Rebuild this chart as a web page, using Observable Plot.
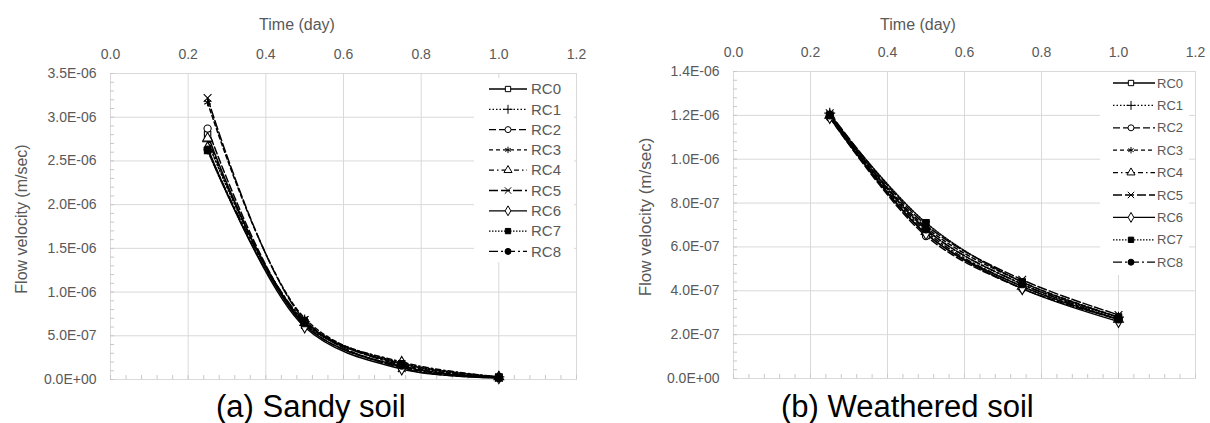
<!DOCTYPE html>
<html><head><meta charset="utf-8">
<script src="https://cdn.jsdelivr.net/npm/d3@7"></script>
<script src="https://cdn.jsdelivr.net/npm/@observablehq/plot@0.6"></script>
<style>
body{margin:0;background:#fff;font-family:"Liberation Sans",Arial,sans-serif;}
#wrap{position:relative;width:1210px;height:423px;overflow:hidden;background:#fff;}
.panel{position:absolute;top:0;}
#overlay{position:absolute;left:0;top:0;pointer-events:none;}
</style></head><body><div id="wrap"></div><script>
// ---- data ----
const times = [0.25, 0.5, 0.75, 1.0];
const seriesNames = ["RC0","RC1","RC2","RC3","RC4","RC5","RC6","RC7","RC8"];
const sandyValues = [
  [2.80e-6, 0.62e-6, 0.15e-6, 0.02e-6],
  [2.72e-6, 0.66e-6, 0.19e-6, 0.03e-6],
  [2.87e-6, 0.63e-6, 0.14e-6, 0.02e-6],
  [3.17e-6, 0.70e-6, 0.17e-6, 0.03e-6],
  [2.76e-6, 0.65e-6, 0.20e-6, 0.03e-6],
  [3.22e-6, 0.68e-6, 0.13e-6, 0.02e-6],
  [2.65e-6, 0.60e-6, 0.12e-6, 0.02e-6],
  [2.62e-6, 0.64e-6, 0.18e-6, 0.03e-6],
  [2.63e-6, 0.67e-6, 0.16e-6, 0.02e-6]
];
const weatheredValues = [
  [1.20e-6, 0.66e-6, 0.42e-6, 0.27e-6],
  [1.21e-6, 0.68e-6, 0.43e-6, 0.28e-6],
  [1.19e-6, 0.65e-6, 0.41e-6, 0.27e-6],
  [1.20e-6, 0.69e-6, 0.44e-6, 0.28e-6],
  [1.20e-6, 0.67e-6, 0.42e-6, 0.27e-6],
  [1.21e-6, 0.70e-6, 0.45e-6, 0.29e-6],
  [1.19e-6, 0.66e-6, 0.41e-6, 0.26e-6],
  [1.20e-6, 0.71e-6, 0.44e-6, 0.28e-6],
  [1.20e-6, 0.68e-6, 0.43e-6, 0.27e-6]
];
const xTicks = [0, 0.2, 0.4, 0.6, 0.8, 1.0, 1.2];
const sandyYTicks = [0, 0.5e-6, 1.0e-6, 1.5e-6, 2.0e-6, 2.5e-6, 3.0e-6, 3.5e-6];
const weatheredYTicks = [0, 0.2e-6, 0.4e-6, 0.6e-6, 0.8e-6, 1.0e-6, 1.2e-6, 1.4e-6];
const xTitle = "Time (day)";
const yTitle = "Flow velocity (m/sec)";
const captions = ["(a) Sandy soil", "(b) Weathered soil"];

// ---- styles ----
const symbols = ["square","plus","circle","asterisk","triangle","times","diamond","square","circle"];
const fills = ["white","none","white","none","white","none","white","black","black"];
const dashes = [null,"1.5,2","7,3","4,3","5,3,1.5,3","9,3",null,"1.5,1.5","9,3,2,3"];
const d3sym = {square:d3.symbolSquare, plus:d3.symbolPlus, circle:d3.symbolCircle, asterisk:d3.symbolAsterisk,
  triangle:d3.symbolTriangle, times:d3.symbolTimes, diamond:d3.symbolDiamond};
const FONT = '"Liberation Sans", Arial, sans-serif';
const GRAY = "#595959", GRID = "#d9d9d9";

const sci = v => {
  const [m, e] = v.toExponential(1).split("e");
  const n = +e;
  return m + "E" + (n < 0 ? "-" : "+") + String(Math.abs(n)).padStart(2, "0");
};

function makePanel(values, yTicks, cfg) {
  const yMax = yTicks[yTicks.length - 1];
  const step = yTicks[1] - yTicks[0];
  const yMinor = d3.range(0, Math.round(yMax / step * 5) + 1).map(i => i * step / 5);
  const xMinor = d3.range(0, 31).map(i => i * 0.04);
  const rows = [];
  values.forEach((vals, s) => vals.forEach((v, i) => rows.push({series: seriesNames[s], s, t: times[i], v})));
  const marks = [
    Plot.gridX(xTicks, {stroke: GRID, strokeOpacity: 1}),
    Plot.gridY(yTicks, {stroke: GRID, strokeOpacity: 1}),
    Plot.frame({stroke: GRID, strokeOpacity: 1}),
    Plot.axisX(xMinor, {anchor: "bottom", tickSize: -4, stroke: "#c8c8c8", tickFormat: () => "", label: null}),
    Plot.axisY(yMinor, {anchor: "left", tickSize: -4, stroke: "#c8c8c8", tickFormat: () => "", label: null})
  ];
  seriesNames.forEach((name, s) => {
    const d = rows.filter(r => r.s === s);
    marks.push(Plot.line(d, {x: "t", y: "v", stroke: "black", strokeWidth: 1.5,
      strokeDasharray: dashes[s] ?? undefined, curve: "catmull-rom"}));
  });
  seriesNames.forEach((name, s) => {
    const d = rows.filter(r => r.s === s);
    marks.push(Plot.dot(d, {x: "t", y: "v", symbol: symbols[s], r: 3.6, stroke: "black",
      fill: fills[s], strokeWidth: 1.1}));
  });
  marks.push(
    Plot.axisX({anchor: "top", ticks: xTicks, tickSize: 0, tickPadding: 15, tickFormat: d => d.toFixed(1), label: null, fill: GRAY}),
    Plot.axisY({anchor: "left", ticks: yTicks, tickSize: 0, tickPadding: 14, tickFormat: sci, label: null, fill: GRAY})
  );
  const svg = Plot.plot({
    width: 605, height: 390,
    marginLeft: cfg.ml, marginRight: cfg.mr, marginTop: cfg.mt, marginBottom: cfg.mb,
    x: {domain: [0, 1.2]},
    y: {domain: [0, yMax]},
    style: {fontFamily: FONT, fontSize: "14px", color: GRAY, background: "transparent"},
    marks
  });
  svg.classList.add("panel");
  svg.style.left = cfg.left + "px";
  // legend
  const L = cfg.legend;
  const g = d3.select(svg).append("g").attr("text-anchor", "start");
  g.append("rect").attr("x", L.x0).attr("y", L.y0).attr("width", L.x1 - L.x0).attr("height", L.y1 - L.y0).attr("fill", "white");
  seriesNames.forEach((name, s) => {
    const y = L.row0 + s * L.step;
    g.append("line").attr("x1", L.lx0).attr("x2", L.lx1).attr("y1", y).attr("y2", y)
      .attr("stroke", "black").attr("stroke-width", 1.3).attr("stroke-dasharray", dashes[s]);
    g.append("path").attr("d", d3.symbol(d3sym[symbols[s]], Math.PI * 3 * 3)())
      .attr("transform", `translate(${L.mx},${y})`).attr("fill", fills[s]).attr("stroke", "black").attr("stroke-width", 1);
    g.append("text").attr("x", L.tx).attr("y", y).attr("dy", "0.35em").attr("fill", GRAY)
      .attr("text-anchor", "start").attr("font-size", L.fs + "px").attr("font-family", FONT).text(name);
  });
  return svg;
}

const wrap = document.getElementById("wrap");
wrap.appendChild(makePanel(sandyValues, sandyYTicks, {
  left: 0, ml: 110, mr: 29, mt: 73, mb: 11,
  legend: {x0: 474, x1: 574, y0: 78, y1: 262, lx0: 489, lx1: 527, mx: 508, tx: 531, row0: 89, step: 20.3, fs: 15}
}));
wrap.appendChild(makePanel(weatheredValues, weatheredYTicks, {
  left: 605, ml: 128, mr: 15, mt: 71, mb: 12,
  legend: {x0: 1100 - 605, x1: 1189 - 605, y0: 72, y1: 275, lx0: 1113 - 605, lx1: 1155 - 605, mx: 1131 - 605, tx: 1157 - 605, row0: 83, step: 22.4, fs: 13}
}));

// titles & captions overlay
const ov = d3.select(wrap).append("svg").attr("id", "overlay").attr("width", 1210).attr("height", 423)
  .attr("font-family", FONT);
[[297, 24, 16], [918, 24, 16]].forEach(([x, y, fs]) => ov.append("text").attr("x", x).attr("y", y).attr("dy", "0.35em")
  .attr("text-anchor", "middle").attr("font-size", fs).attr("fill", GRAY).text(xTitle));
[[21, 219, 16], [645, 217, 17]].forEach(([x, y, fs]) => ov.append("text").attr("transform", `translate(${x},${y}) rotate(-90)`)
  .attr("dy", "0.35em").attr("text-anchor", "middle").attr("font-size", fs).attr("fill", GRAY).text(yTitle));
[[216, 417], [781, 417]].forEach(([x, y], i) => ov.append("text").attr("x", x).attr("y", y)
  .attr("font-size", 31).attr("fill", "black").text(captions[i]));
</script></body></html>
